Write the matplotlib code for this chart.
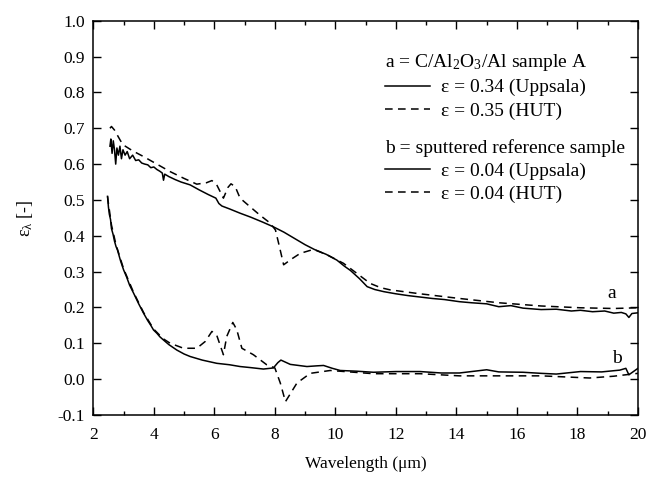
import numpy as np
import matplotlib
matplotlib.use('Agg')
import matplotlib.pyplot as plt
from matplotlib.lines import Line2D

plt.rcParams['font.family'] = ['Liberation Serif', 'DejaVu Serif']
plt.rcParams['mathtext.fontset'] = 'custom'
plt.rcParams['mathtext.rm'] = 'Liberation Serif'
plt.rcParams['mathtext.it'] = 'Liberation Serif:italic'
plt.rcParams['axes.unicode_minus'] = False

# 样品 A (C/Al2O3/Al) - Uppsala 测量
wl_a_upp = [2.55, 2.58, 2.62, 2.66, 2.70, 2.74, 2.78, 2.83, 2.88, 2.93, 2.98, 3.05, 3.12,
            3.20, 3.30, 3.40, 3.50, 3.60, 3.70, 3.80, 3.90, 4.00, 4.10, 4.20, 4.28, 4.32,
            4.36, 4.5, 4.7, 4.9, 5.2, 5.5, 5.8, 6.05, 6.15, 6.25, 6.5, 6.85, 7.2, 7.6,
            7.95, 8.3, 8.7, 9.0, 9.3, 9.7, 10.05, 10.3, 10.5, 10.8, 11.05, 11.3, 11.6,
            12.0, 12.4, 12.8, 13.2, 13.6, 14.1, 14.5, 15.0, 15.4, 15.8, 16.2, 16.8, 17.3,
            17.8, 18.1, 18.5, 18.9, 19.2, 19.45, 19.6, 19.7, 19.8, 20.0]
eps_a_upp = [0.65, 0.67, 0.63, 0.665, 0.64, 0.60, 0.645, 0.625, 0.65, 0.615, 0.64, 0.625, 0.635,
             0.615, 0.625, 0.61, 0.612, 0.603, 0.60, 0.598, 0.59, 0.592, 0.585, 0.58, 0.575, 0.555,
             0.572, 0.565, 0.557, 0.55, 0.542, 0.528, 0.515, 0.505, 0.49, 0.483, 0.475, 0.463, 0.452, 0.438,
             0.425, 0.41, 0.39, 0.375, 0.362, 0.348, 0.332, 0.315, 0.303, 0.28, 0.258, 0.25, 0.244,
             0.238, 0.233, 0.229, 0.225, 0.222, 0.216, 0.213, 0.21, 0.202, 0.205, 0.198, 0.194, 0.195,
             0.19, 0.192, 0.188, 0.19, 0.184, 0.186, 0.182, 0.172, 0.183, 0.185]

# 样品 A - HUT 测量
wl_a_hut = [2.55, 2.6, 2.7, 2.8, 2.9, 3.0, 3.3, 3.66, 4.1, 4.54, 5.0, 5.42, 5.74, 5.92, 6.08,
            6.30, 6.45, 6.55, 6.69, 6.85, 7.18, 7.5, 7.85, 8.02, 8.15, 8.29, 8.55, 8.84, 9.28,
            9.72, 10.27, 10.71, 11.15, 11.5, 11.81, 12.8, 14.1, 15.4, 16.8, 18.1, 19.2, 20.0]
eps_a_hut = [0.70, 0.705, 0.695, 0.68, 0.665, 0.653, 0.637, 0.621, 0.60, 0.579, 0.56, 0.544, 0.548,
             0.554, 0.542, 0.505, 0.535, 0.545, 0.537, 0.505, 0.481, 0.458, 0.435, 0.416, 0.37,
             0.319, 0.335, 0.351, 0.362, 0.347, 0.323, 0.295, 0.267, 0.255, 0.249, 0.238, 0.225,
             0.213, 0.204, 0.199, 0.197, 0.199]

# 溅射参考样品 - Uppsala 测量
wl_b_upp = [2.47, 2.5, 2.53, 2.57, 2.6, 2.65, 2.7, 2.75, 2.8, 2.9, 3.0, 3.1, 3.2, 3.33, 3.5,
            3.66, 3.8, 3.9, 3.99, 4.1, 4.2, 4.32, 4.5, 4.76, 5.0, 5.2, 5.6, 6.08, 6.5, 6.85,
            7.2, 7.62, 7.95, 8.1, 8.2, 8.51, 9.06, 9.4, 9.61, 9.9, 10.16, 10.7, 11.26, 12.0,
            12.8, 13.5, 14.1, 14.6, 15.0, 15.4, 16.2, 16.8, 17.3, 18.1, 18.8, 19.4, 19.6,
            19.7, 20.0]
eps_b_upp = [0.51, 0.48, 0.46, 0.445, 0.42, 0.405, 0.385, 0.37, 0.36, 0.33, 0.305, 0.285, 0.262,
             0.24, 0.21, 0.184, 0.163, 0.15, 0.137, 0.128, 0.118, 0.109, 0.096, 0.081, 0.07,
             0.063, 0.053, 0.044, 0.04, 0.035, 0.032, 0.028, 0.031, 0.046, 0.053, 0.041, 0.035,
             0.037, 0.038, 0.03, 0.024, 0.022, 0.019, 0.021, 0.021, 0.017, 0.017, 0.022, 0.026,
             0.02, 0.019, 0.016, 0.014, 0.021, 0.02, 0.025, 0.03, 0.012, 0.03]

# 溅射参考样品 - HUT 测量
wl_b_hut = [2.47, 2.5, 2.6, 2.75, 3.0, 3.33, 3.66, 3.99, 4.2, 4.32, 4.54, 4.98, 5.42, 5.70,
            5.92, 6.08, 6.30, 6.41, 6.61, 6.74, 6.91, 7.29, 7.73, 8.0, 8.18, 8.35, 8.73, 9.17,
            9.83, 11.26, 12.8, 14.1, 15.4, 16.8, 18.4, 19.2, 20.0]
eps_b_hut = [0.51, 0.49, 0.43, 0.375, 0.308, 0.242, 0.186, 0.14, 0.122, 0.112, 0.100, 0.086,
             0.086, 0.105, 0.133, 0.122, 0.068, 0.119, 0.158, 0.138, 0.086, 0.068, 0.040, 0.031,
             -0.011, -0.063, -0.011, 0.016, 0.024, 0.015, 0.015, 0.009, 0.009, 0.009, 0.003,
             0.008, 0.016]

fs = 12.5      # 刻度和轴标签
fs_leg = 14    # 图例和曲线标注
lw = 1.1
dash = (5, 3.5)

fig = plt.figure(figsize=(6.48, 4.78), dpi=100)
ax = fig.add_axes([0.144, 0.132, 0.8405, 0.8245])

ax.plot(wl_a_upp, eps_a_upp, color='black', lw=lw)
ax.plot(wl_a_hut, eps_a_hut, color='black', lw=lw, dashes=dash)
ax.plot(wl_b_upp, eps_b_upp, color='black', lw=lw)
ax.plot(wl_b_hut, eps_b_hut, color='black', lw=lw, dashes=dash)

ax.text(19.13, 0.24, 'a', fontsize=fs_leg, ha='center', va='center')
ax.text(19.3, 0.058, 'b', fontsize=fs_leg, ha='center', va='center')

ax.set_xlim(2, 20)
ax.set_ylim(-0.1, 1.0)
ax.set_xticks(np.arange(2, 21, 2))
ax.set_xticks(np.arange(3, 20, 2), minor=True)
ax.set_yticks(np.arange(-0.1, 1.01, 0.1))
ax.yaxis.set_major_formatter(matplotlib.ticker.FormatStrFormatter('%.1f'))
ax.tick_params(which='both', direction='in', top=True, right=True, labelsize=fs, width=1.0)
ax.tick_params(which='major', length=5.5)
ax.tick_params(axis='x', which='major', pad=9)
ax.tick_params(axis='y', which='major', pad=6)
ax.tick_params(which='minor', length=3)
for s in ax.spines.values():
    s.set_linewidth(1.1)

ax.set_xlabel('Wavelength (μm)', fontsize=fs, labelpad=9)
ax.set_ylabel('ε$_{\\mathrm{λ}}$ [-]', fontsize=fs + 0.5, labelpad=16)

h_solid = Line2D([], [], color='black', lw=lw)
h_dash = Line2D([], [], color='black', lw=lw, dashes=dash)

leg_kw = dict(title_fontsize=fs_leg, fontsize=fs_leg, alignment='left', frameon=False,
              loc='upper left', borderpad=0, borderaxespad=0,
              handlelength=2.35, handletextpad=0.55, labelspacing=0.28)
leg1 = ax.legend([h_solid, h_dash], ['ε = 0.34 (Uppsala)', 'ε = 0.35 (HUT)'],
                 title='a = C/Al$_2$O$_3$/Al sample A',
                 bbox_to_anchor=(0.535, 0.92), **leg_kw)
ax.add_artist(leg1)
leg2 = ax.legend([h_solid, h_dash], ['ε = 0.04 (Uppsala)', 'ε = 0.04 (HUT)'],
                 title='b = sputtered reference sample',
                 bbox_to_anchor=(0.535, 0.70), **leg_kw)

fig.savefig('out.png', dpi=100)
